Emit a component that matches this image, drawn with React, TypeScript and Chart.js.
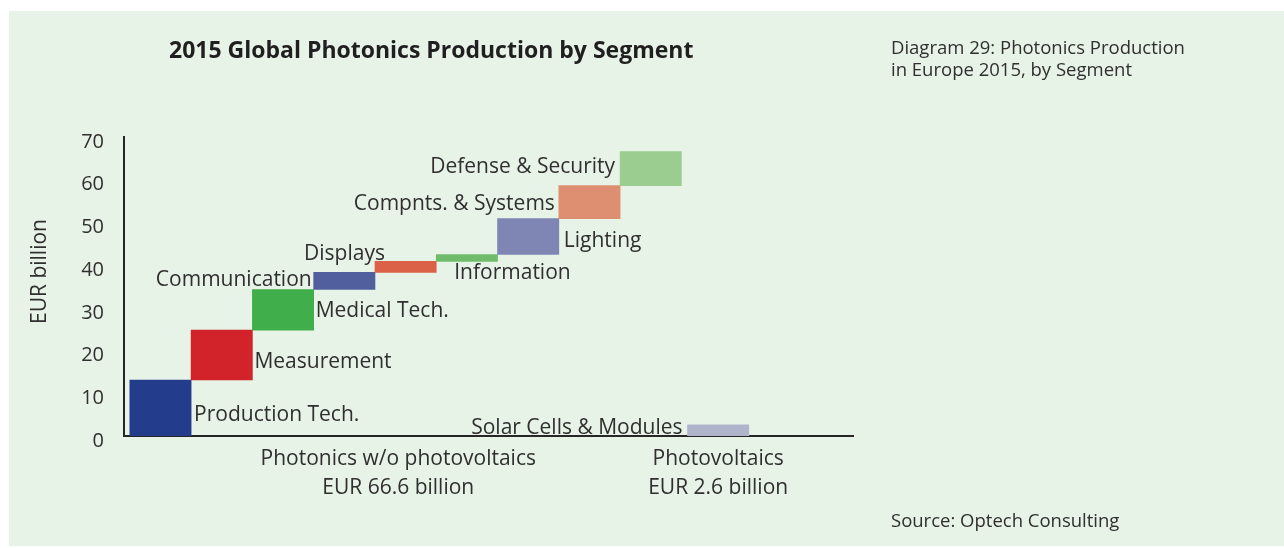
import React, { useEffect, useRef } from "react";
import { Chart, registerables } from "chart.js";

Chart.register(...registerables);

// ---------- data ----------
const segments = [
  "Production Tech.",
  "Measurement",
  "Medical Tech.",
  "Communication",
  "Displays",
  "Information",
  "Lighting",
  "Compnts. & Systems",
  "Defense & Security",
  "Solar Cells & Modules",
];
const segmentValues = [13.1, 11.7, 9.5, 4.0, 2.6, 1.6, 8.4, 7.7, 8.0, 2.6];
const segmentGroup = [0, 0, 0, 0, 0, 0, 0, 0, 0, 1];
const segmentSlots = [0, 1, 2, 3, 4, 5, 6, 7, 8, 9.1];
const segmentColors = [
  "#233C8C",
  "#D2222A",
  "#40AE4A",
  "#515F9E",
  "#DB6247",
  "#70BC6A",
  "#7F86B4",
  "#DE8F72",
  "#9ACD8F",
  "#AFB4CB",
];
const groupNames = ["Photonics w/o photovoltaics", "Photovoltaics"];
const groupTotals = ["EUR 66.6 billion", "EUR 2.6 billion"];
const groupCenters = [3.88, 9.1];
const yTicks = [0, 10, 20, 30, 40, 50, 60, 70];
const yTitle = "EUR billion";

// label placement (style only)
type Place = { align: "left" | "right"; from: "left" | "right"; dx: number; yRef: "top" | "mid" | "bottom"; dy: number };
const labelPlacement: Place[] = [
  { align: "left", from: "right", dx: 3, yRef: "bottom", dy: -21 },
  { align: "left", from: "right", dx: 2, yRef: "bottom", dy: -18 },
  { align: "left", from: "right", dx: 2, yRef: "bottom", dy: -19 },
  { align: "right", from: "left", dx: -2, yRef: "mid", dy: -1 },
  { align: "right", from: "left", dx: 10, yRef: "top", dy: -7 },
  { align: "left", from: "left", dx: 18, yRef: "bottom", dy: 12 },
  { align: "left", from: "right", dx: 5, yRef: "mid", dy: 4 },
  { align: "right", from: "left", dx: -4, yRef: "mid", dy: 2 },
  { align: "right", from: "left", dx: -5, yRef: "mid", dy: -2 },
  { align: "right", from: "left", dx: -5, yRef: "mid", dy: -2 },
];

const FONT = '"Open Sans", "DejaVu Sans", sans-serif';
const TEXT = "#2f2f2f";

const segLabelPlugin = {
  id: "segLabels",
  afterDatasetsDraw(chart: any) {
    const ctx = chart.ctx;
    const meta = chart.getDatasetMeta(0);
    ctx.save();
    ctx.font = `21px ${FONT}`;
    ctx.fillStyle = TEXT;
    ctx.textBaseline = "middle";
    meta.data.forEach((bar: any, i: number) => {
      const { x, y, base, width } = bar.getProps(["x", "y", "base", "width"], true);
      const left = x - width / 2;
      const right = x + width / 2;
      const top = Math.min(y, base);
      const bottom = Math.max(y, base);
      const p = labelPlacement[i];
      const tx = (p.from === "left" ? left : right) + p.dx;
      const yy = p.yRef === "top" ? top : p.yRef === "bottom" ? bottom : (top + bottom) / 2;
      ctx.textAlign = p.align;
      ctx.fillText(segments[i], tx, yy + p.dy);
    });
    // y axis title
    const area = chart.chartArea;
    ctx.translate(40, (area.top + area.bottom) / 2 - 15);
    ctx.rotate(-Math.PI / 2);
    ctx.textAlign = "center";
    ctx.font = `21px ${FONT}`;
    ctx.fillText(yTitle, 0, 0);
    ctx.restore();
  },
};

export default function App() {
  const canvasRef = useRef<HTMLCanvasElement | null>(null);

  useEffect(() => {
    const starts: number[] = [];
    const run: number[] = [0, 0];
    segmentValues.forEach((v, i) => {
      starts.push(run[segmentGroup[i]]);
      run[segmentGroup[i]] += v;
    });
    const data = segmentValues.map((v, i) => ({
      x: segmentSlots[i],
      y: [starts[i], starts[i] + v],
    }));

    const chart = new Chart(canvasRef.current as HTMLCanvasElement, {
      type: "bar",
      data: {
        datasets: [
          {
            label: yTitle,
            data: data as any,
            backgroundColor: segmentColors,
            borderWidth: 0,
            barPercentage: 1,
            categoryPercentage: 1,
          },
        ],
      },
      options: {
        animation: false,
        responsive: false,
        devicePixelRatio: 1,
        layout: { padding: { left: 0, right: 431, top: 137, bottom: 0 } },
        plugins: { legend: { display: false }, tooltip: { enabled: false } },
        scales: {
          x: {
            type: "linear",
            offset: false,
            min: -0.595,
            max: 11.3,
            grid: { display: false, offset: false },
            border: { display: true, color: "#262626", width: 2 },
            afterBuildTicks: (s: any) => {
              s.ticks = groupCenters.map((v) => ({ value: v }));
            },
            afterFit: (s: any) => {
              s.height = 112;
            },
            ticks: {
              autoSkip: false,
              maxRotation: 0,
              padding: 0,
              color: TEXT,
              font: { family: FONT, size: 21, lineHeight: 1.4 },
              callback: (_v: any, idx: number) => [groupNames[idx], groupTotals[idx]],
            },
          },
          y: {
            min: 0,
            max: 70,
            grid: { display: false },
            border: { display: true, color: "#262626", width: 2 },
            afterBuildTicks: (s: any) => {
              s.ticks = yTicks.map((v) => ({ value: v }));
            },
            afterFit: (s: any) => {
              s.width = 124;
            },
            ticks: {
              padding: 12,
              labelOffset: 5,
              color: TEXT,
              font: { family: FONT, size: 20 },
            },
          },
        },
      },
      plugins: [segLabelPlugin],
    });
    return () => chart.destroy();
  }, []);

  const txt: React.CSSProperties = {
    position: "absolute",
    fontFamily: FONT,
    color: TEXT,
    whiteSpace: "nowrap",
    margin: 0,
  };

  return (
    <div
      style={{
        position: "fixed",
        left: 0,
        top: 0,
        width: 1284,
        height: 548,
        background: "#ffffff",
        overflow: "hidden",
      }}
    >
      <div
        style={{
          position: "absolute",
          left: 9,
          top: 11,
          right: 0,
          bottom: 2,
          background: "#E8F3E7",
        }}
      />
      <canvas
        ref={canvasRef}
        width={1284}
        height={548}
        style={{ position: "absolute", left: 0, top: 0, width: 1284, height: 548 }}
      />
      <div style={{ ...txt, left: 169, top: 34, fontSize: 23, lineHeight: "30px", fontWeight: 700, color: "#1f1f1f" }}>
        2015 Global Photonics Production by Segment
      </div>
      <div style={{ ...txt, left: 891, top: 36, fontSize: 18.5, lineHeight: "22px" }}>
        Diagram 29: Photonics Production
        <br />
        in Europe 2015, by Segment
      </div>
      <div style={{ ...txt, left: 891, top: 508, fontSize: 18.5, lineHeight: "24px" }}>
        Source: Optech Consulting
      </div>
    </div>
  );
}
